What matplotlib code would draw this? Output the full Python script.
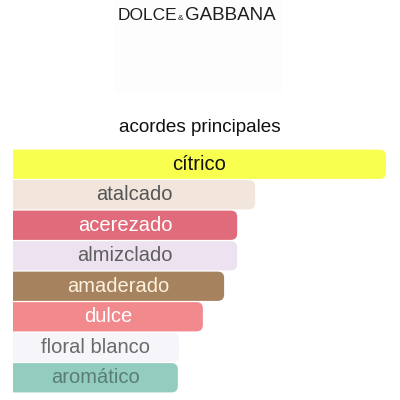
import matplotlib
matplotlib.use("Agg")
import matplotlib.pyplot as plt
from matplotlib.patches import FancyBboxPatch, Rectangle

plt.rcParams['font.family'] = ['Liberation Sans', 'DejaVu Sans']

# acordes y su intensidad relativa (cítrico = 100)
acordes = ['cítrico', 'atalcado', 'acerezado', 'almizclado',
           'amaderado', 'dulce', 'floral blanco', 'aromático']
valores = [100, 64.9, 60.1, 60.1, 56.6, 50.9, 44.5, 44.2]
colores = ['#f8ff4e', '#f1e5dc', '#e06b7a', '#ede3f0',
           '#a6825f', '#f28a8d', '#f5f5fa', '#93cdbf']
colores_texto = ['#111111', '#555555', '#ffffff', '#5e5e5e',
                 '#fdf2df', '#ffffff', '#6a6a6a', '#5b7d74']

fig = plt.figure(figsize=(4, 4), dpi=100)
fig.patch.set_facecolor('white')

# logo
fig.patches.append(Rectangle((0.285, 0.765), 0.42, 0.235, transform=fig.transFigure,
                             facecolor='#fdfdfd', edgecolor='none', zorder=0))
fig.text(0.4425, 0.962, 'DOLCE', ha='right', va='center', fontsize=12.5,
         color='#1e1e1e')
fig.text(0.4525, 0.955, '&', ha='center', va='center', fontsize=6, color='#1e1e1e')
fig.text(0.4625, 0.962, 'GABBANA', ha='left', va='center', fontsize=13.5,
         color='#1e1e1e')

fig.text(0.5, 0.68, 'acordes principales', ha='center', va='center',
         fontsize=13.6, color='#111111')

ax = fig.add_axes([13 / 400, 1 - 393 / 400, 373 / 400, 244 / 400])
ax.set_xlim(0, 100)
ax.set_ylim(len(acordes) - 0.5, -0.5)
ax.axis('off')

barras = ax.barh(range(len(acordes)), valores, height=1.0)
px_x = 373 / 100
px_y = 244 / len(acordes)
for i, b in enumerate(barras):
    x0, y0 = b.get_x(), b.get_y()
    w, h = b.get_width(), b.get_height()
    b.remove()
    p = FancyBboxPatch((x0 - 5, y0 + 0.02), w + 5, h - 0.04,
                       boxstyle='round,pad=0,rounding_size=1.7',
                       mutation_aspect=px_x / px_y,
                       facecolor=colores[i], edgecolor='none')
    ax.add_patch(p)
    ax.text(w / 2, i, acordes[i], ha='center', va='center',
            fontsize=14.5, color=colores_texto[i])

fig.savefig('out.png', dpi=100)
